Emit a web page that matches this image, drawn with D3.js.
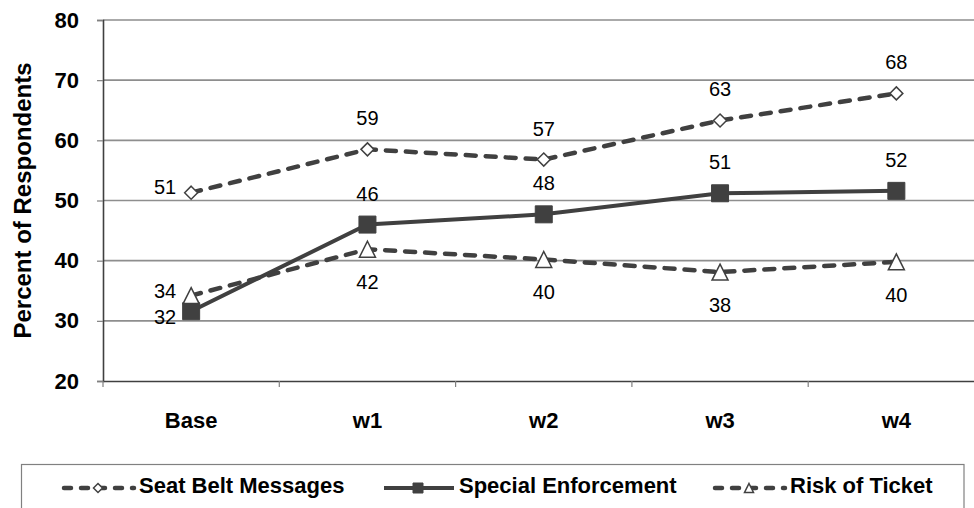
<!DOCTYPE html>
<html>
<head>
<meta charset="utf-8">
<script src="https://cdn.jsdelivr.net/npm/d3@7"></script>
<style>
  body { margin: 0; background: #fff; }
  svg { display: block; font-family: Arial, "Liberation Sans", sans-serif; }
</style>
</head>
<body>
<svg id="chart" width="974" height="508"></svg>
<script>
// DATA
var categories = ['Base', 'w1', 'w2', 'w3', 'w4'];
var seatBelt = [51.3, 58.5, 56.8, 63.3, 67.8];
var enforcement = [31.6, 46.0, 47.7, 51.2, 51.6];
var riskTicket = [34.2, 41.9, 40.2, 38.1, 39.8];
var yTicks = [20, 30, 40, 50, 60, 70, 80];

var ink = '#404040';
var svg = d3.select('#chart');

// scales
var x = d3.scaleBand().domain(categories).range([103, 984.5]).padding(0);
var y = d3.scaleLinear().domain([20, 80]).range([381, 20]);
function cx(i) { return x(categories[i]) + x.bandwidth() / 2; }

/**
 * Series setup (styles only)
 */
var series = [
  { name: 'Seat Belt Messages', values: seatBelt, dash: '10,10', width: 4.5, marker: 'diamond', label: 'above' },
  { name: 'Special Enforcement', values: enforcement, dash: null, width: 4, marker: 'square', label: 'above' },
  { name: 'Risk of Ticket', values: riskTicket, dash: '10,10', width: 4.5, marker: 'triangle', label: 'below' }
];
// baseline tweak for the left-hand label on the first point
var firstLabelDy = [1, 13, 2];

// gridlines
svg.append('g')
  .selectAll('line')
  .data(yTicks.slice(1))
  .enter().append('line')
  .attr('x1', 103).attr('x2', 984)
  .attr('y1', function (d) { return y(d); })
  .attr('y2', function (d) { return y(d); })
  .attr('stroke', '#8e8e8e')
  .attr('stroke-width', 1.6);

// y axis
var yAxis = svg.append('g').attr('transform', 'translate(103,0)')
  .call(d3.axisLeft(y).tickValues(yTicks).tickSize(6).tickPadding(5).tickFormat(d3.format('d')));
yAxis.select('.domain').attr('stroke', ink).attr('stroke-width', 1.6);
yAxis.selectAll('.tick line').attr('stroke', '#808080').attr('stroke-width', 1.2);
yAxis.selectAll('.tick text')
  .attr('fill', '#000')
  .style('font-size', '22px')
  .style('font-weight', 'bold')
  .attr('x', -24);

// x axis
var xAxis = svg.append('g').attr('transform', 'translate(0,381)')
  .call(d3.axisBottom(x).tickSize(0).tickSizeOuter(0).tickPadding(0));
xAxis.select('.domain').attr('stroke', ink).attr('stroke-width', 1.6);
xAxis.selectAll('.tick text')
  .attr('fill', '#000')
  .attr('dy', null)
  .attr('y', 47)
  .style('font-size', '22px')
  .style('font-weight', 'bold');
// boundary ticks between categories
svg.append('g')
  .selectAll('line')
  .data(categories.concat(['end']))
  .enter().append('line')
  .attr('x1', function (d, i) { return 103 + i * x.bandwidth(); })
  .attr('x2', function (d, i) { return 103 + i * x.bandwidth(); })
  .attr('y1', 381).attr('y2', 387)
  .attr('stroke', '#808080').attr('stroke-width', 1.2);

// y title
svg.append('text')
  .attr('transform', 'translate(31,' + ((y(20) + y(80)) / 2) + ') rotate(-90)')
  .attr('text-anchor', 'middle')
  .style('font-size', '24px')
  .style('font-weight', 'bold')
  .text('Percent of Respondents');

// marker shapes
function markerPath(type, s) {
  var h = s / 2;
  if (type === 'diamond') return 'M0,' + (-h) + 'L' + h + ',0L0,' + h + 'L' + (-h) + ',0Z';
  if (type === 'square') return 'M' + (-h) + ',' + (-h) + 'H' + h + 'V' + h + 'H' + (-h) + 'Z';
  return 'M0,' + (-h) + 'L' + h + ',' + h + 'L' + (-h) + ',' + h + 'Z';
}
function drawMarker(g, type, size) {
  var p = g.append('path').attr('d', markerPath(type, size));
  if (type === 'square') {
    p.attr('fill', ink).attr('stroke', ink).attr('stroke-width', 1);
  } else {
    p.attr('fill', '#fff').attr('stroke', ink).attr('stroke-width', 1.5);
  }
  return p;
}
var markerSize = { diamond: 13, square: 17, triangle: 16 };

var line = d3.line()
  .x(function (d, i) { return cx(i); })
  .y(function (d) { return y(d); });

series.forEach(function (s, si) {
  var g = svg.append('g').attr('class', 'series');

  g.append('path')
    .datum(s.values)
    .attr('d', line)
    .attr('fill', 'none')
    .attr('stroke', ink)
    .attr('stroke-width', s.width)
    .attr('stroke-linecap', s.dash ? 'round' : 'butt')
    .attr('stroke-dasharray', s.dash);

  s.values.forEach(function (v, i) {
    var m = g.append('g').attr('transform', 'translate(' + cx(i) + ',' + y(v) + ')');
    drawMarker(m, s.marker, markerSize[s.marker]);
  });

  // data labels
  g.selectAll('text.lbl')
    .data(s.values)
    .enter().append('text')
    .attr('class', 'lbl')
    .style('font-size', '20px')
    .attr('text-anchor', function (d, i) { return i === 0 ? 'end' : 'middle'; })
    .attr('x', function (d, i) { return i === 0 ? cx(i) - 15 : cx(i); })
    .attr('y', function (d, i) {
      if (i === 0) return y(d) + firstLabelDy[si];
      return s.label === 'above' ? y(d) - 24 : y(d) + 40;
    })
    .text(function (d) { return d3.format('.0f')(d); });
});

// LEGEND
svg.append('rect')
  .attr('x', 21.5).attr('y', 464.5)
  .attr('width', 942.5).attr('height', 60)
  .attr('fill', 'none')
  .attr('stroke', '#808080')
  .attr('stroke-width', 1.2);

var legendX = [62, 382, 713];
series.forEach(function (s, i) {
  var g = svg.append('g').attr('transform', 'translate(' + legendX[i] + ',488)');
  g.append('line')
    .attr('x1', 2).attr('x2', 72)
    .attr('stroke', ink)
    .attr('stroke-width', s.dash ? 4.5 : 4)
    .attr('stroke-linecap', s.dash ? 'round' : 'butt')
    .attr('stroke-dasharray', s.dash ? '7,10' : null);
  var m = g.append('g').attr('transform', 'translate(36,0)');
  drawMarker(m, s.marker, s.marker === 'square' ? 10 : 9);
  g.append('text')
    .attr('x', 77).attr('y', 5)
    .style('font-size', '22px')
    .style('font-weight', 'bold')
    .text(s.name);
});
</script>
</body>
</html>
